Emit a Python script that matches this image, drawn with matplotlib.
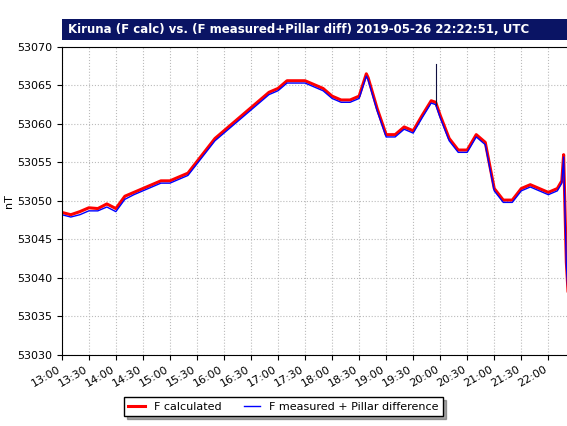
import numpy as np
import matplotlib
matplotlib.use("Agg")
import matplotlib.pyplot as plt
import matplotlib.dates as mdates
import pandas as pd

# times in minutes after 13:00
minutes = [0, 10, 20, 30, 40, 50, 60, 70, 80, 90, 100, 110, 120, 130, 140, 150,
           160, 170, 180, 190, 200, 210, 220, 230, 240, 250, 260, 270, 280, 290,
           300, 310, 320, 330, 338, 340, 350, 360, 370, 380, 390, 400, 410, 415,
           420, 430, 440, 450, 460, 470, 480, 490, 500, 510, 520, 530, 540, 550,
           555, 557, 560, 562]
f_calc = [53048.5, 53048.2, 53048.6, 53049.1, 53049.0, 53049.6, 53049.0, 53050.6,
          53051.1, 53051.6, 53052.1, 53052.6, 53052.6, 53053.1, 53053.6, 53055.1,
          53056.6, 53058.1, 53059.1, 53060.1, 53061.1, 53062.1, 53063.1, 53064.1,
          53064.6, 53065.6, 53065.6, 53065.6, 53065.1, 53064.6, 53063.6, 53063.1,
          53063.1, 53063.6, 53066.5, 53066.0, 53062.0, 53058.6, 53058.6, 53059.6,
          53059.1, 53061.1, 53063.0, 53062.8, 53061.1, 53058.1, 53056.6, 53056.6,
          53058.6, 53057.6, 53051.6, 53050.1, 53050.1, 53051.6, 53052.1, 53051.6,
          53051.1, 53051.6, 53052.6, 53056.0, 53042.0, 53038.0]
f_meas = [53048.2, 53047.9, 53048.2, 53048.7, 53048.7, 53049.2, 53048.6, 53050.2,
          53050.8, 53051.3, 53051.8, 53052.3, 53052.3, 53052.8, 53053.3, 53054.8,
          53056.3, 53057.8, 53058.8, 53059.8, 53060.8, 53061.8, 53062.8, 53063.8,
          53064.3, 53065.3, 53065.3, 53065.3, 53064.8, 53064.3, 53063.3, 53062.8,
          53062.8, 53063.3, 53066.2, 53065.7, 53061.7, 53058.3, 53058.3, 53059.3,
          53058.8, 53060.8, 53062.7, 53062.5, 53060.8, 53057.8, 53056.3, 53056.3,
          53058.3, 53057.3, 53051.3, 53049.8, 53049.8, 53051.3, 53051.8, 53051.3,
          53050.8, 53051.3, 53052.3, 53055.7, 53041.7, 53037.7]
spike_min = 415
spike_lo, spike_hi = 53062.5, 53067.8

t0 = pd.Timestamp("2019-05-26 13:00")
times = [t0 + pd.Timedelta(minutes=m) for m in minutes]

fig = plt.figure(figsize=(5.67, 4.26), dpi=100)
ax = fig.add_axes([0.109, 0.167, 0.893, 0.723])
ax.plot(times, f_calc, color="red", lw=2.2, label="F calculated")
ax.plot(times, f_meas, color="blue", lw=1.0, label="F measured + Pillar difference")
st = t0 + pd.Timedelta(minutes=spike_min)
ax.plot([st, st], [spike_lo, spike_hi], color="#101040", lw=0.8)

ax.set_ylim(53030, 53070)
ax.set_yticks(np.arange(53030, 53071, 5))
ax.set_xlim(t0, t0 + pd.Timedelta(minutes=562))
ax.xaxis.set_major_locator(mdates.MinuteLocator(byminute=[0, 30]))
ax.xaxis.set_major_formatter(mdates.DateFormatter("%H:%M"))
plt.setp(ax.get_xticklabels(), rotation=30, ha="right")
ax.tick_params(labelsize=8)
ax.grid(True, color="#bbbbbb", ls=":", lw=0.8)
ax.set_ylabel("nT", fontsize=8, labelpad=2)

fig.patches.append(plt.Rectangle((0.109, 0.905), 0.893, 0.05, transform=fig.transFigure,
                                 fc="#0a1464", ec="none"))
fig.text(0.12, 0.93, "Kiruna (F calc) vs. (F measured+Pillar diff) 2019-05-26 22:22:51, UTC",
         color="white", fontsize=8.5, fontweight="bold", va="center")

leg = fig.legend(loc="lower center", bbox_to_anchor=(0.5, 0.01), ncol=2, fontsize=8,
                 fancybox=False, shadow=True, edgecolor="black", handlelength=1.5)
fig.savefig("out.png")
